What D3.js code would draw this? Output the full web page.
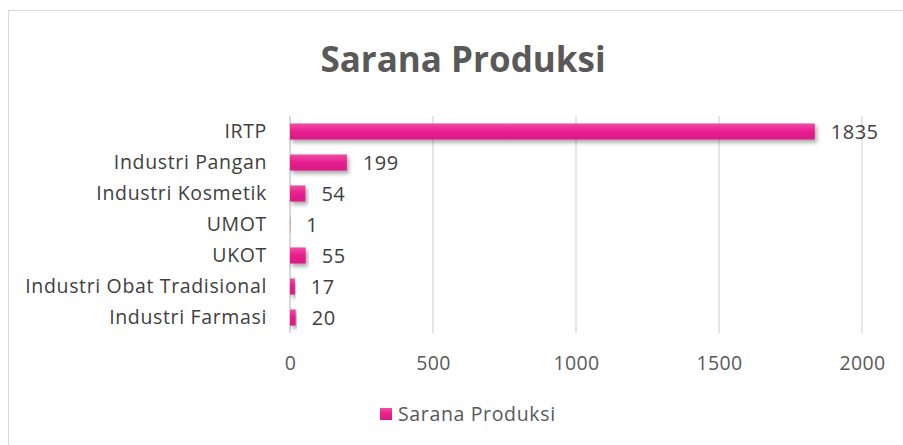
<!DOCTYPE html>
<html>
<head>
<meta charset="utf-8">
<script src="https://cdn.jsdelivr.net/npm/d3@7"></script>
<style>
  body { margin: 0; background: #fff; }
  text { font-family: "Open Sans", "Noto Sans", sans-serif; }
</style>
</head>
<body>
<script>
// data
const categories = ["IRTP", "Industri Pangan", "Industri Kosmetik", "UMOT", "UKOT", "Industri Obat Tradisional", "Industri Farmasi"]
const values = [1835, 199, 54, 1, 55, 17, 20]
const ticks = [0, 500, 1000, 1500, 2000]
const seriesName = "Sarana Produksi"

const W = 903, H = 445
const plot = { left: 290, right: 862, top: 116, bottom: 333 }

const svg = d3.select("body").append("svg")
    .attr("width", W)
    .attr("height", H)

// chart frame
svg.append("rect")
    .attr("x", 8.5).attr("y", 10.5)
    .attr("width", W + 20).attr("height", H + 20)
    .attr("fill", "#fff")
    .attr("stroke", "#d9d9d9")
    .attr("stroke-width", 1)

const defs = svg.append("defs")
const grad = defs.append("linearGradient")
    .attr("id", "barGrad")
    .attr("x1", 0).attr("y1", 0).attr("x2", 0).attr("y2", 1)
grad.append("stop").attr("offset", "0%").attr("stop-color", "#ee4fa4")
grad.append("stop").attr("offset", "45%").attr("stop-color", "#e9208f")
grad.append("stop").attr("offset", "100%").attr("stop-color", "#d81a84")

const shadow = defs.append("filter")
    .attr("id", "shadow")
    .attr("x", "-10%").attr("y", "-50%")
    .attr("width", "130%").attr("height", "250%")
shadow.append("feDropShadow")
    .attr("dx", 2).attr("dy", 3)
    .attr("stdDeviation", 2)
    .attr("flood-color", "#000")
    .attr("flood-opacity", 0.35)

const x = d3.scaleLinear().domain([0, 2000]).range([plot.left, plot.right])
const y = d3.scaleBand().domain(categories).range([plot.top, plot.bottom]).paddingInner(0.48).paddingOuter(0.24)

// title
svg.append("text")
    .attr("x", 463).attr("y", 72)
    .attr("text-anchor", "middle")
    .attr("font-size", 35)
    .attr("font-weight", "bold")
    .attr("fill", "#595959")
    .text(seriesName)

// gridlines
svg.append("g")
    .selectAll("line")
    .data(ticks)
    .enter()
    .append("line")
        .attr("x1", d => x(d)).attr("x2", d => x(d))
        .attr("y1", plot.top).attr("y2", plot.bottom)
        .attr("stroke", "#d9d9d9")
        .attr("stroke-width", d => d === 0 ? 2 : 1.3)

// x axis tick labels
const xAxis = svg.append("g")
    .attr("transform", "translate(0," + plot.bottom + ")")
    .call(d3.axisBottom(x).tickValues(ticks).tickFormat(d3.format("d")).tickSize(0).tickPadding(23))
xAxis.select(".domain").remove()
xAxis.selectAll("text")
    .attr("font-size", 19.5)
    .attr("letter-spacing", 0.3)
    .attr("fill", "#595959")
    .attr("font-family", "'Open Sans', sans-serif")

// category labels
const yAxis = svg.append("g")
    .attr("transform", "translate(" + (plot.left - 23) + ",0)")
    .call(d3.axisLeft(y).tickSize(0).tickPadding(0))
yAxis.select(".domain").remove()
yAxis.selectAll("text")
    .attr("font-size", 19.5)
    .attr("letter-spacing", 0.65)
    .attr("fill", "#404040")
    .attr("font-family", "'Open Sans', sans-serif")

// bars
const rows = categories.map((c, i) => ({ cat: c, val: values[i] }))

svg.append("g")
    .selectAll("rect")
    .data(rows)
    .enter()
    .append("rect")
        .attr("x", x(0))
        .attr("y", d => y(d.cat))
        .attr("width", d => x(d.val) - x(0))
        .attr("height", y.bandwidth())
        .attr("fill", "url(#barGrad)")
        .attr("filter", "url(#shadow)")

// value labels
svg.append("g")
    .selectAll("text")
    .data(rows)
    .enter()
    .append("text")
        .attr("x", d => x(d.val) + 16)
        .attr("y", d => y(d.cat) + y.bandwidth() / 2)
        .attr("dy", "0.35em")
        .attr("font-size", 20)
        .attr("letter-spacing", 0.5)
        .attr("fill", "#404040")
        .text(d => d.val)

// legend
const legend = svg.append("g").attr("transform", "translate(380,408)")
legend.append("rect")
    .attr("width", 12).attr("height", 12)
    .attr("fill", "url(#barGrad)")
legend.append("text")
    .attr("x", 18).attr("y", 6)
    .attr("dy", "0.35em")
    .attr("font-size", 19.5)
    .attr("letter-spacing", 0.65)
    .attr("fill", "#595959")
    .text(seriesName)
</script>
</body>
</html>
